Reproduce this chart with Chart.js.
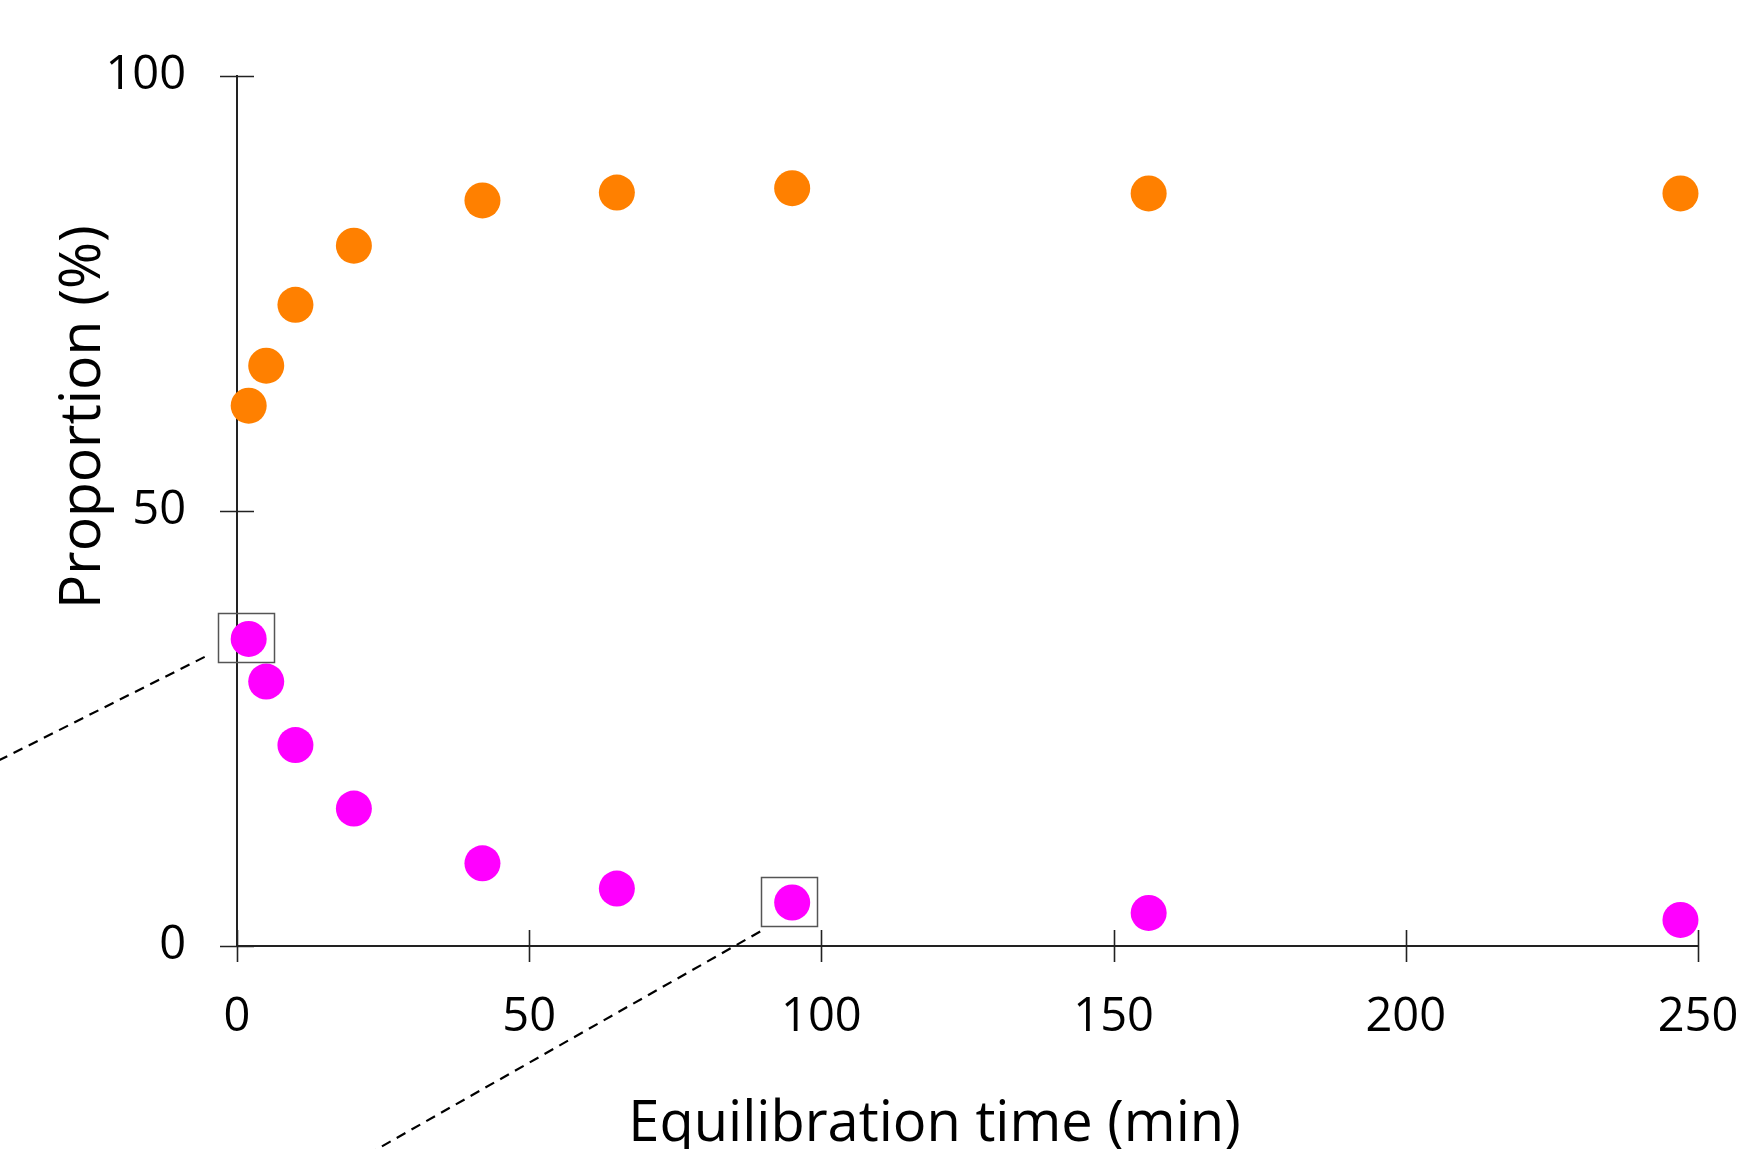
<!DOCTYPE html>
<html>
<head>
<meta charset="utf-8">
<script src="https://cdn.jsdelivr.net/npm/chart.js@4/dist/chart.umd.min.js"></script>
<style>
  html, body { margin: 0; padding: 0; background: #fff; overflow: hidden; }
  canvas { display: block; }
</style>
</head>
<body>
<canvas id="myChart" width="1742" height="1149"></canvas>
<script>
// equilibration time (min) and proportion (%)
var times = [2, 5, 10, 20, 42, 65, 95, 156, 247];
var orangeValues = [62.1, 66.7, 73.7, 80.5, 85.7, 86.6, 87.1, 86.5, 86.5];
var magentaValues = [35.3, 30.4, 23.1, 15.8, 9.5, 6.6, 5.0, 3.8, 3.0];
var xTicks = [0, 50, 100, 150, 200, 250];
var yTicks = [0, 50, 100];
var boxedPoints = [0, 6];   // magenta points with a box + dashed leader

var xTitle = 'Equilibration time (min)';
var yTitle = 'Proportion (%)';

function toPoints(xs, ys) {
    return xs.map(function (t, i) { return { x: t, y: ys[i] }; });
}

var axisFont = '"Open Sans", "Noto Sans", sans-serif';

// crossing tick marks, boxes, leader lines and axis titles
var extras = {
    id: 'extras',
    afterDraw: function (chart) {
        var ctx = chart.ctx;
        var area = chart.chartArea;
        var x = chart.scales.x, y = chart.scales.y;
        ctx.save();

        ctx.strokeStyle = '#222';
        ctx.lineWidth = 1.6;
        ctx.beginPath();
        xTicks.forEach(function (v) {
            var px = Math.round(x.getPixelForValue(v)) + 0.5;
            ctx.moveTo(px, area.bottom - 16);
            ctx.lineTo(px, area.bottom + 16);
        });
        yTicks.forEach(function (v) {
            var py = Math.round(y.getPixelForValue(v)) + 0.5;
            ctx.moveTo(area.left - 17, py);
            ctx.lineTo(area.left + 17, py);
        });
        ctx.stroke();

        // boxes around selected points
        var meta = chart.getDatasetMeta(1);
        ctx.strokeStyle = '#555';
        ctx.lineWidth = 1.5;
        boxedPoints.forEach(function (i) {
            var p = meta.data[i];
            ctx.strokeRect(Math.round(p.x - 31) + 0.5, Math.round(p.y - 26) + 0.5, 56, 49);
        });

        // dashed leader lines heading off canvas
        var starts = [[-44, 18, 0.503], [-32, 29, 0.568]];
        ctx.strokeStyle = '#000';
        ctx.lineWidth = 2.2;
        ctx.setLineDash([10, 7]);
        boxedPoints.forEach(function (i, k) {
            var p = meta.data[i];
            var sx = p.x + starts[k][0], sy = p.y + starts[k][1];
            var len = sx + 20;
            ctx.beginPath();
            ctx.moveTo(sx, sy);
            ctx.lineTo(sx - len, sy + len * starts[k][2]);
            ctx.stroke();
        });
        ctx.setLineDash([]);

        // axis titles
        ctx.fillStyle = '#000';
        ctx.font = '56px ' + axisFont;
        ctx.textAlign = 'center';
        ctx.textBaseline = 'alphabetic';
        ctx.fillText(xTitle, (area.left + area.right) / 2 - 33, area.bottom + 195);

        ctx.font = '57px ' + axisFont;
        ctx.translate(area.left - 153, area.top + 341);
        ctx.rotate(-Math.PI / 2);
        ctx.textBaseline = 'middle';
        ctx.fillText(yTitle, 0, 0);
        ctx.restore();
    }
};

var ctx = document.getElementById('myChart').getContext('2d');
var myChart = new Chart(ctx, {
    type: 'scatter',
    data: {
        datasets: [{
            label: 'orange',
            data: toPoints(times, orangeValues),
            backgroundColor: '#FF8000',
            borderWidth: 0,
            pointRadius: 18,
            pointHoverRadius: 18,
            clip: false
        }, {
            label: 'magenta',
            data: toPoints(times, magentaValues),
            backgroundColor: '#FF00FF',
            borderWidth: 0,
            pointRadius: 18,
            pointHoverRadius: 18,
            clip: false
        }]
    },
    options: {
        responsive: false,
        animation: false,
        layout: { padding: { left: 0, top: 76, right: 44, bottom: 0 } },
        plugins: {
            legend: { display: false },
            tooltip: { enabled: false }
        },
        scales: {
            x: {
                type: 'linear',
                min: 0,
                max: 250,
                afterBuildTicks: function (s) { s.ticks = xTicks.map(function (v) { return { value: v }; }); },
                afterFit: function (s) { s.height = 203; s.paddingLeft = 0; s.paddingRight = 0; },
                grid: { display: false, drawTicks: false, tickLength: 0 },
                border: { display: true, color: '#222', width: 2 },
                ticks: {
                    color: '#000',
                    padding: 43,
                    maxRotation: 0,
                    font: { family: axisFont, size: 47 }
                }
            },
            y: {
                type: 'linear',
                min: 0,
                max: 100,
                afterBuildTicks: function (s) { s.ticks = yTicks.map(function (v) { return { value: v }; }); },
                afterFit: function (s) { s.width = 237; s.paddingTop = 0; s.paddingBottom = 0; },
                grid: { display: false, drawTicks: false, tickLength: 0 },
                border: { display: true, color: '#222', width: 2 },
                ticks: {
                    color: '#000',
                    padding: 51,
                    font: { family: axisFont, size: 47 }
                }
            }
        }
    },
    plugins: [extras]
});
</script>
</body>
</html>
